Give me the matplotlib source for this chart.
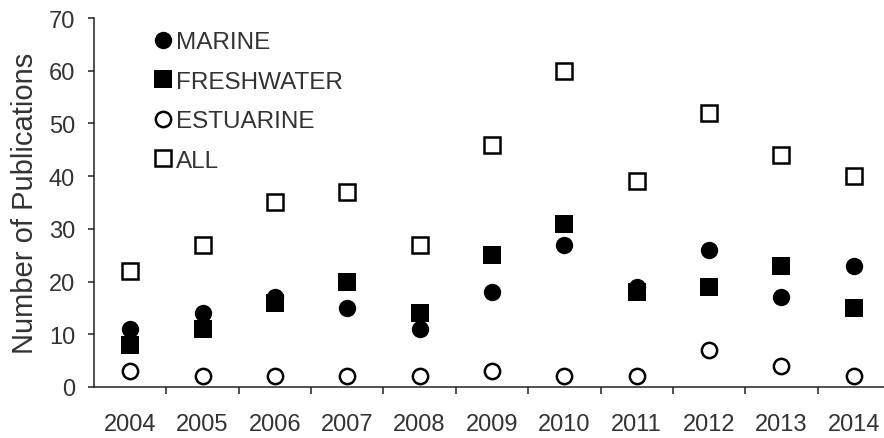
import numpy as np
import matplotlib
matplotlib.use('Agg')
import matplotlib.pyplot as plt

# Publications per year by habitat
years      = [2004, 2005, 2006, 2007, 2008, 2009, 2010, 2011, 2012, 2013, 2014]
marine     = [11, 14, 17, 15, 11, 18, 27, 19, 26, 17, 23]
freshwater = [8, 11, 16, 20, 14, 25, 31, 18, 19, 23, 15]
estuarine  = [3, 2, 2, 2, 2, 3, 2, 2, 7, 4, 2]
total      = [22, 27, 35, 37, 27, 46, 60, 39, 52, 44, 40]

plt.rcParams['font.family'] = ['Liberation Sans', 'DejaVu Sans']
text_col = '#333333'

fig = plt.figure(figsize=(8.84, 4.39), dpi=100)
ax = fig.add_axes([0.1063, 0.1162, 0.9005, 0.8405])

ms, mew = 12.5, 1.8
ax.plot(years, marine, 'o', ms=ms, color='black', mew=0, label='MARINE')
ax.plot(years, freshwater, 's', ms=ms, color='black', mew=0, label='FRESHWATER')
ax.plot(years, estuarine, 'o', ms=ms - 1.5, mfc='white', mec='black', mew=mew, label='ESTUARINE')
ax.plot(years, total, 's', ms=ms - 1.5, mfc='white', mec='black', mew=mew, label='ALL')

ax.set_xlim(years[0] - 0.5, years[-1] + 0.5)
ax.set_ylim(0, 70)
ax.set_yticks(np.arange(0, 71, 10))
ax.set_xticks(years)
ax.set_xticks(np.arange(years[0] + 0.5, years[-1], 1), minor=True)

for side in ['top', 'right']:
    ax.spines[side].set_visible(False)
for side in ['left', 'bottom']:
    ax.spines[side].set_linewidth(1.1)
    ax.spines[side].set_color('#222222')

ax.tick_params(axis='x', which='major', length=0, pad=19, labelsize=17, labelcolor=text_col)
ax.tick_params(axis='x', which='minor', length=5, width=1.1, direction='out', color='#222222')
ax.tick_params(axis='y', length=4.5, width=1.1, direction='out', pad=9, labelsize=17,
               labelcolor=text_col, color='#222222')

ax.set_ylabel('Number of Publications', fontsize=21, color=text_col, labelpad=7)

ax.legend(loc='upper left', bbox_to_anchor=(0.047, 1.024), frameon=False, fontsize=17.5,
          handlelength=0.8, handletextpad=0.15, labelspacing=0.72, borderpad=0.4,
          labelcolor=text_col)

fig.savefig('out.png', dpi=100)
